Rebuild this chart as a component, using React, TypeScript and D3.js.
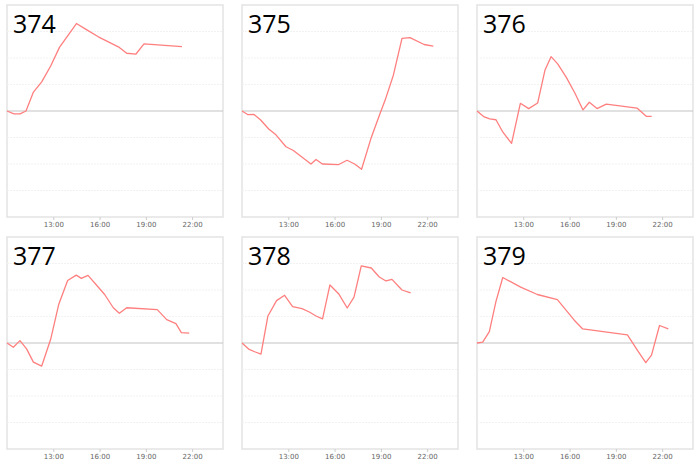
import { useEffect, useRef } from "react";
import * as d3 from "d3";

// hour of day (decimal) and value per sensor
const ids = ["374", "375", "376", "377", "378", "379"];

const times374 = [10, 10.45, 10.85, 11.23, 11.7, 12.25, 12.83, 13.4, 14.5, 15.2, 15.92, 17.28, 17.76, 18.36, 18.88, 21.34];
const values374 = [0, -0.11, -0.11, 0, 0.7, 1.1, 1.7, 2.4, 3.3, 3.05, 2.8, 2.4, 2.18, 2.15, 2.53, 2.43];

const times375 = [10, 10.39, 10.78, 11.21, 11.73, 12.2, 12.85, 13.33, 14.47, 14.8, 15.21, 16.27, 16.81, 17.3, 17.75, 18.35, 18.9, 19.29, 19.81, 20.37, 20.89, 21.8, 22.4];
const values375 = [0, -0.14, -0.13, -0.34, -0.68, -0.9, -1.35, -1.49, -2.0, -1.83, -2.0, -2.02, -1.86, -2.0, -2.2, -1.05, -0.17, 0.43, 1.35, 2.74, 2.77, 2.51, 2.45];

const times376 = [10, 10.43, 10.82, 11.23, 11.68, 12.24, 12.81, 13.35, 13.93, 14.41, 14.8, 15.23, 15.79, 16.35, 16.87, 17.28, 17.78, 18.38, 20.37, 20.97, 21.32];
const values376 = [0, -0.21, -0.3, -0.33, -0.8, -1.22, 0.29, 0.09, 0.3, 1.55, 2.05, 1.78, 1.27, 0.67, 0.04, 0.33, 0.09, 0.26, 0.11, -0.2, -0.2];

const times377 = [10, 10.41, 10.84, 11.27, 11.71, 12.25, 12.83, 13.35, 13.93, 14.49, 14.82, 15.25, 15.81, 16.33, 16.89, 17.28, 17.76, 19.74, 20.35, 20.95, 21.3, 21.81];
const values377 = [0, -0.16, 0.09, -0.22, -0.72, -0.87, 0.14, 1.45, 2.36, 2.56, 2.44, 2.55, 2.18, 1.83, 1.33, 1.12, 1.33, 1.26, 0.88, 0.73, 0.39, 0.37];

const times378 = [10, 10.43, 10.82, 11.23, 11.68, 12.24, 12.76, 13.28, 13.89, 14.36, 14.8, 15.22, 15.7, 16.26, 16.82, 17.26, 17.73, 18.38, 18.9, 19.33, 19.72, 20.37, 20.93];
const values378 = [0, -0.23, -0.33, -0.42, 1.02, 1.6, 1.8, 1.37, 1.3, 1.17, 1.02, 0.91, 2.19, 1.86, 1.32, 1.73, 2.91, 2.83, 2.49, 2.34, 2.4, 2.0, 1.89];

const times379 = [10, 10.37, 10.8, 11.23, 11.67, 12.83, 13.91, 15.21, 16.29, 16.85, 19.75, 20.4, 20.94, 21.31, 21.83, 22.4];
const values379 = [0, 0.03, 0.43, 1.57, 2.47, 2.11, 1.83, 1.64, 0.87, 0.53, 0.31, -0.28, -0.74, -0.46, 0.66, 0.53];

const allTimes = [times374, times375, times376, times377, times378, times379];
const allValues = [values374, values375, values376, values377, values378, values379];

const hourTicks = [13, 16, 19, 22];
const gridValues = [-3, -2, -1, 1, 2, 3];

export default function App() {
    const ref = useRef<SVGSVGElement>(null);

    useEffect(() => {
        if (!ref.current) return;
        const root = d3.select(ref.current);
        root.selectAll("*").remove();

        const colX = [7, 242, 477];
        const rowY = [5, 237];
        const w = 216;
        const h = 212;

        const x = d3.scaleLinear().domain([10, 24]).range([0, w]);
        const y = d3.scaleLinear().domain([-4, 4]).range([h, 0]);

        ids.forEach((id, i) => {
            const g = root
                .append("g")
                .attr("transform", `translate(${colX[i % 3]},${rowY[Math.floor(i / 3)]})`);

            g.append("rect")
                .attr("width", w)
                .attr("height", h)
                .attr("fill", "#fff")
                .attr("stroke", "#e3e3e3")
                .attr("stroke-width", 1.5);

            // faint grid
            g.selectAll(".grid")
                .data(gridValues)
                .enter()
                .append("line")
                .attr("x1", 0)
                .attr("x2", w)
                .attr("y1", (d) => y(d))
                .attr("y2", (d) => y(d))
                .attr("stroke", "#f2f2f2")
                .attr("stroke-dasharray", "2,1");

            // zero line
            g.append("line")
                .attr("x1", 0)
                .attr("x2", w)
                .attr("y1", y(0))
                .attr("y2", y(0))
                .attr("stroke", "#c4c4c4")
                .attr("stroke-width", 1.2);

            // axis
            const axis = g
                .append("g")
                .attr("transform", `translate(0,${h})`)
                .call(
                    d3
                        .axisBottom(x)
                        .tickValues(hourTicks)
                        .tickFormat((d) => `${d}:00`)
                        .tickSize(3)
                        .tickPadding(2)
                );
            axis.select(".domain").remove();
            axis.selectAll("line").attr("stroke", "#ccc");
            axis.selectAll("text")
                .attr("fill", "#666")
                .style("font-size", "7px")
                .style("font-family", "'DejaVu Sans', sans-serif");

            const pts = allTimes[i].map((t, k) => [t, allValues[i][k]] as [number, number]);
            const line = d3
                .line<[number, number]>()
                .x((d) => x(d[0]))
                .y((d) => y(d[1]));

            g.append("path")
                .datum(pts)
                .attr("d", line)
                .attr("fill", "none")
                .attr("stroke", "#ff7f7f")
                .attr("stroke-width", 1.3)
                .attr("stroke-linejoin", "round");

            g.append("text")
                .attr("x", 6)
                .attr("y", 28)
                .attr("fill", "#000")
                .style("font-size", "25px")
                .style("font-family", "'Open Sans', 'Noto Sans', sans-serif")
                .text(id);
        });
    }, []);

    return (
        <svg
            ref={ref}
            width={700}
            height={461}
            style={{ position: "absolute", left: 0, top: 0, background: "#fff" }}
        />
    );
}
